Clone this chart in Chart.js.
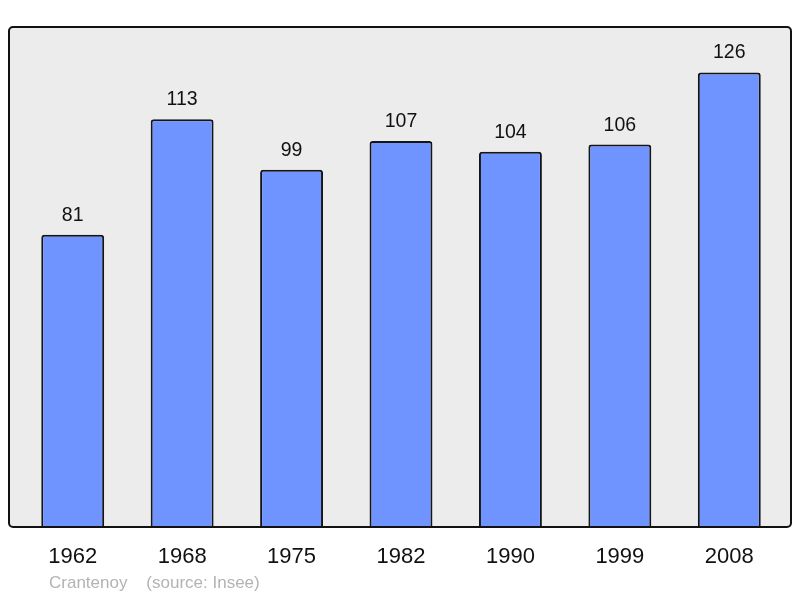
<!DOCTYPE html>
<html><head><meta charset="utf-8">
<script src="https://cdn.jsdelivr.net/npm/chart.js@4"></script>
<style>
html,body{margin:0;padding:0;background:#fff;}
#wrap{position:relative;width:800px;height:598px;}
#src{position:absolute;left:49px;top:573px;font:17px "Liberation Sans",Arial,sans-serif;color:#b3b3b3;white-space:pre;}
</style></head><body>
<div id="wrap"><canvas id="c" width="800" height="598"></canvas><div id="src">Crantenoy    (source: Insee)</div></div>
<script>
const years = ["1962","1968","1975","1982","1990","1999","2008"];
const population = [81,113,99,107,104,106,126];
const yMax = 138.6;

const framePlugin = {
  id:'frame',
  beforeDraw(chart){
    const ctx = chart.ctx, a = chart.chartArea;
    const x0 = 9, x1 = chart.width - 9, y0 = a.top, y1 = a.bottom;
    ctx.save();
    ctx.beginPath();
    ctx.roundRect(x0, y0, x1-x0, y1-y0, 4);
    ctx.fillStyle = '#ececec';
    ctx.fill();
    ctx.restore();
  },
  afterDatasetsDraw(chart){
    const ctx = chart.ctx, a = chart.chartArea;
    const x0 = 9, x1 = chart.width - 9, y0 = a.top, y1 = a.bottom;
    ctx.save();
    ctx.beginPath();
    ctx.roundRect(x0, y0, x1-x0, y1-y0, 4);
    ctx.lineWidth = 2;
    ctx.strokeStyle = '#111';
    ctx.stroke();
    const meta = chart.getDatasetMeta(0);
    ctx.font = '19.5px "Liberation Sans", Arial, sans-serif';
    ctx.fillStyle = '#111';
    ctx.textAlign = 'center';
    ctx.textBaseline = 'alphabetic';
    meta.data.forEach((bar,i)=>{
      ctx.fillText(String(population[i]), bar.x, bar.y - 14);
    });
    ctx.restore();
  }
};

new Chart(document.getElementById('c'), {
  type:'bar',
  data:{labels:years, datasets:[{data:population, backgroundColor:'#7094ff', borderColor:'#151515', borderWidth:2, borderRadius:3, barPercentage:1, categoryPercentage:0.575}]},
  options:{
    responsive:false, animation:false, devicePixelRatio:1,
    layout:{padding:{left:18,right:16,top:27,bottom:0}},
    plugins:{legend:{display:false}, tooltip:{enabled:false}},
    scales:{
      y:{display:false, min:0, max:yMax},
      x:{
        grid:{display:false, drawTicks:false}, border:{display:false},
        ticks:{padding:17, color:'#111', font:{size:22, family:'"Liberation Sans", Arial, sans-serif'}},
        afterFit(s){ s.height = 71; }
      }
    }
  },
  plugins:[framePlugin]
});
</script>
</body></html>
